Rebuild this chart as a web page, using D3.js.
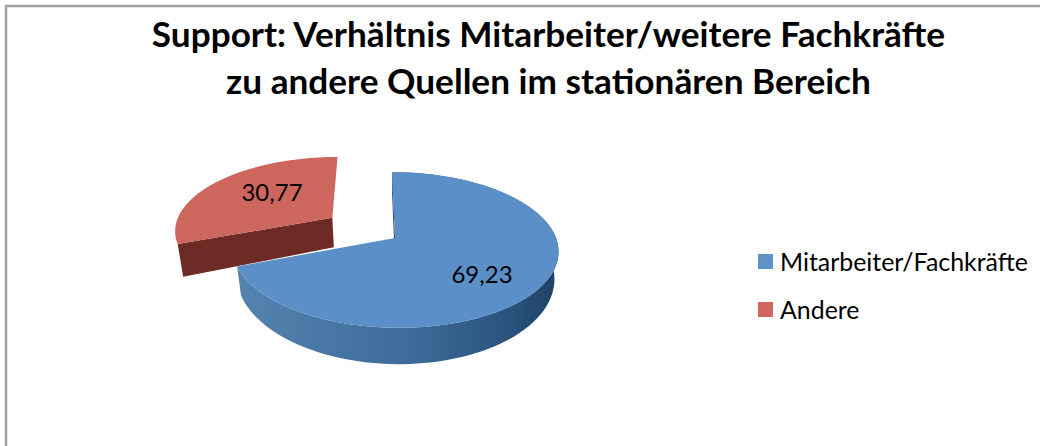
<!DOCTYPE html>
<html><head><meta charset="utf-8">
<script src="https://cdn.jsdelivr.net/npm/d3@7/dist/d3.min.js"></script>
<style>html,body{margin:0;padding:0;background:#fff}svg{display:block}text{font-family:Lato,Carlito,sans-serif;fill:#000}</style>
</head><body><svg id="c" width="1040" height="446"></svg>
<script>
const categories = ["Mitarbeiter/Fachkräfte", "Andere"];
const values = [69.23, 30.77];
const labels = ["69,23", "30,77"];
const titleLines = ["Support: Verhältnis Mitarbeiter/weitere Fachkräfte", "zu andere Quellen im stationären Bereich"];
const topColors = ["#5a8fc8", "#cd665c"];
const legendColors = ["#5f94cb", "#cf6660"];

const svg = d3.select("#c");
const defs = svg.append("defs");
const W = 1040, H = 446;

// frame
svg.append("path").attr("d", `M6,${H} V6 H${W}`).attr("fill", "none").attr("stroke", "#a0a0a0").attr("stroke-width", 2.4);

// title
svg.selectAll("text.title").data(titleLines).join("text").attr("class", "title")
  .attr("x", 548.5).attr("y", (d, i) => 47 + i * 47).attr("text-anchor", "middle")
  .attr("font-size", 35.2).attr("font-weight", 700).text(d => d);

// 3D pie projection
const cx = 395, cy = 238, R = 161, Ry = 76, persp = 0.154, skew = 0.045, inward = 0.025;
function proj(X, Y, z, depth) {
  const s = 1 / (1 + persp * Y);
  const py = -Ry * Y * s;
  return [cx + R * X * s * (1 - inward * z) + skew * py, cy + py + z * depth * s * s];
}
const arcs = d3.pie().value(d => d).sort(null)(values);
const line = d3.line();
const explode = [0, 0.486];
const depths = [26, 32];
const stepAngles = (a, b) => d3.range(0, 121).map(i => a + (b - a) * i / 120);

function offset(d, i) {
  const mid = (d.startAngle + d.endAngle) / 2;
  return [explode[i] * Math.sin(mid), explode[i] * Math.cos(mid)];
}

const sideGrad = defs.append("linearGradient").attr("id", "side").attr("gradientUnits", "userSpaceOnUse")
  .attr("x1", 241).attr("x2", 559).attr("y1", 0).attr("y2", 0);
[[0, "#5583b0"], [0.5, "#3f6d9b"], [0.85, "#2a527d"], [1, "#1f4062"]].forEach(([o, c]) =>
  sideGrad.append("stop").attr("offset", o).attr("stop-color", c));

const wallColors = ["#1f4468", "#6e2a25"];

// draw the exploded slice first so the main slice lies over it
[1, 0].forEach(i => {
  const d = arcs[i], [ox, oy] = offset(d, i), D = depths[i];
  const rim = z => stepAngles(d.startAngle, d.endAngle).map(t => proj(ox + Math.sin(t), oy + Math.cos(t), z, D));
  const g = svg.append("g");
  const apexT = proj(ox, oy, 0, D), apexB = proj(ox, oy, 1, D);
  const wall = (t) => [apexT, proj(ox + Math.sin(t), oy + Math.cos(t), 0, D), proj(ox + Math.sin(t), oy + Math.cos(t), 1, D), apexB];
  if (i === 0) {
    g.append("path").attr("d", line(wall(d.startAngle)) + "Z").attr("fill", wallColors[i]);
    g.append("path").attr("d", line(rim(0).concat(rim(1).reverse())) + "Z").attr("fill", "url(#side)");
  } else {
    g.append("path").attr("d", line(wall(d.startAngle)) + "Z").attr("fill", wallColors[i]);
  }
  g.append("path").attr("d", line([apexT].concat(rim(0))) + "Z").attr("fill", topColors[i]);
});

// data labels
const labelPos = [[482, 283], [272, 201]];
svg.selectAll("text.lab").data(labels).join("text").attr("class", "lab")
  .attr("x", (d, i) => labelPos[i][0]).attr("y", (d, i) => labelPos[i][1])
  .attr("text-anchor", "middle").attr("font-size", 24).text(d => d);

// legend
const lg = svg.selectAll("g.lg").data(categories).join("g").attr("class", "lg")
  .attr("transform", (d, i) => `translate(758,${254 + i * 48})`);
lg.append("rect").attr("width", 15).attr("height", 15).attr("fill", (d, i) => legendColors[i]);
lg.append("text").attr("x", 22).attr("y", 17).attr("font-size", 24.9).text(d => d);
</script></body></html>
